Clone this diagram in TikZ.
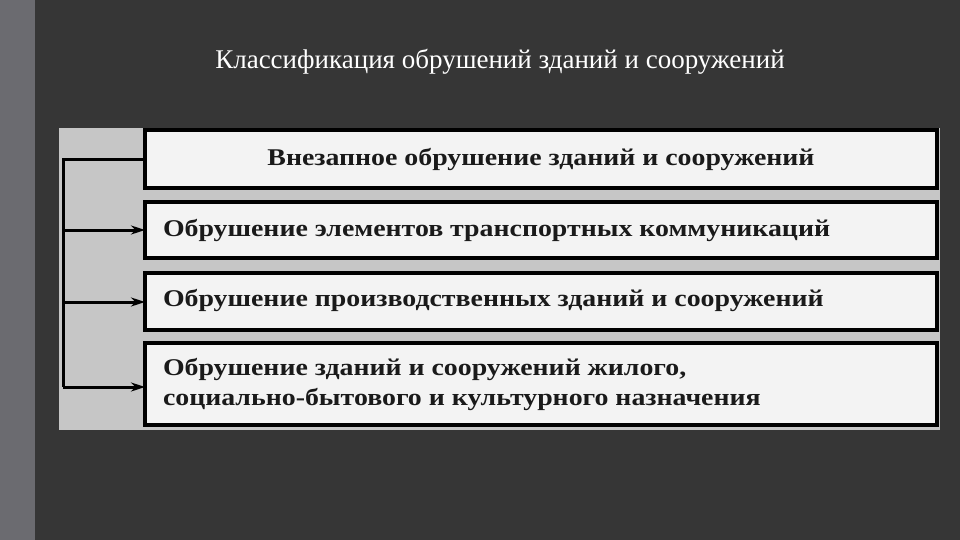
\documentclass[tikz,border=0pt]{standalone}
\usepackage{fontspec}
\setmainfont{Liberation Serif}
\newfontfamily\boxfont[FakeStretch=1.16]{Liberation Serif}
\usetikzlibrary{arrows.meta}
\definecolor{bg}{HTML}{363636}
\definecolor{strip}{HTML}{6B6B70}
\definecolor{panel}{HTML}{C6C6C6}
\definecolor{boxfill}{HTML}{F3F3F3}
\definecolor{ink}{HTML}{1A1A1A}
\tikzset{
  every node/.style={inner sep=0pt, outer sep=0pt},
  catbox/.style={draw=black, line width=4pt, fill=boxfill, minimum width=792pt, anchor=north west},
  cattext/.style={font=\boxfont\fontsize{24pt}{30pt}\selectfont\bfseries, text=ink, align=left, anchor=west},
  link/.style={draw=black, line width=3pt},
  arr/.style={draw=black, line width=3pt, -{Stealth[length=14pt,width=9pt]}}
}
\begin{document}
\begin{tikzpicture}[x=1pt,y=-1pt]
\useasboundingbox (0,0) rectangle (960,540);
\fill[bg] (0,0) rectangle (960,540);
\fill[strip] (0,0) rectangle (35,540);
\node[text=white, font=\fontsize{27pt}{30pt}\selectfont] (title) at (500,62) {Классификация обрушений зданий и сооружений};
\fill[panel] (59,128) rectangle (940,430);
\node[catbox, minimum height=58pt] (b1) at (145,130) {};
\node[catbox, minimum height=56pt] (b2) at (145,202) {};
\node[catbox, minimum height=57pt] (b3) at (145,273) {};
\node[catbox, minimum height=82pt] (b4) at (145,343) {};
\node[cattext, anchor=center] (t1) at (541,159) {Внезапное обрушение зданий и сооружений};
\node[cattext] (t2) at (163,230) {Обрушение элементов транспортных коммуникаций};
\node[cattext] (t3) at (163,300) {Обрушение производственных зданий и сооружений};
\node[cattext] (t4) at (163,384) {Обрушение зданий и сооружений жилого,\\социально-бытового и культурного назначения};
\coordinate (top) at (63,160);
\coordinate (bot) at (63,387);
\draw[link] (b1.west |- top) -- (top) -- (bot);
\draw[arr] (63,230) -- (b2.west |- 0,230);
\draw[arr] (63,302) -- (b3.west |- 0,302);
\draw[arr] (bot) -- (b4.west |- bot);
\end{tikzpicture}
\end{document}
